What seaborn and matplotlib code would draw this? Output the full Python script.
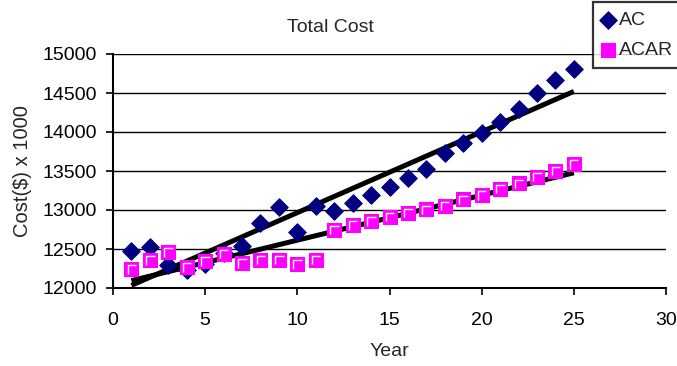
import numpy as np
import pandas as pd
import matplotlib
matplotlib.use('Agg')
import matplotlib.pyplot as plt
import seaborn as sns
from matplotlib.path import Path
from matplotlib.transforms import Bbox, TransformedBbox

# Values
years = list(range(1, 26))
ac = [12475, 12527, 12290, 12227, 12305, 12450, 12540, 12835, 13041, 12712,
      13050, 12990, 13090, 13188, 13298, 13406, 13526, 13727, 13864, 13992,
      14134, 14293, 14499, 14661, 14807]
acar = [12240, 12356, 12463, 12270, 12343, 12440, 12322, 12365, 12365, 12305,
        12365, 12750, 12806, 12857, 12913, 12964, 13007, 13054, 13136, 13191,
        13272, 13341, 13427, 13504, 13590]
y_ticks = [12000, 12500, 13000, 13500, 14000, 14500, 15000]
x_ticks = [0, 5, 10, 15, 20, 25, 30]

df = pd.DataFrame({'Year': years * 2,
                   'Cost': ac + acar,
                   'Series': ['AC'] * len(years) + ['ACAR'] * len(years)})

sns.set_theme(style='white')
plt.rcParams['font.family'] = ['Liberation Sans', 'DejaVu Sans']
FS = 14

W, H = 677, 366
fig = plt.figure(figsize=(W / 100, H / 100), dpi=100)
ax = fig.add_axes([113 / W, 1 - 288 / H, (666 - 113) / W, (288 - 54) / H])

# horizontal gridlines
for yv in y_ticks[1:]:
    ax.axhline(yv, color='black', lw=1.0, zorder=0)

# linear trend lines
for vals in (ac, acar):
    k, b = np.polyfit(years, vals, 1)
    xs = np.array([years[0], years[-1]])
    ax.plot(xs, k * xs + b, color='black', lw=3.6, zorder=2, solid_capstyle='butt')

sns.scatterplot(data=df[df['Series'] == 'AC'], x='Year', y='Cost', marker='D',
                color='#000080', edgecolor='#000080', s=80, ax=ax, zorder=3, label='AC')
sns.scatterplot(data=df[df['Series'] == 'ACAR'], x='Year', y='Cost', marker='s',
                color='#FF00FF', edgecolor='#FF00FF', s=95, ax=ax, zorder=3, label='ACAR')
# white inner corner mark on the squares
corner = Path([(-0.5, -0.6), (-0.5, 0.5), (0.6, 0.5)], [Path.MOVETO, Path.LINETO, Path.LINETO])
ax.scatter(years, acar, marker=corner, s=45, facecolors='none', edgecolors='white',
           linewidths=1.0, zorder=4)

ax.set_xlim(0, 30)
ax.set_ylim(12000, 15000)
ax.set_xticks(x_ticks)
ax.set_yticks(y_ticks)
ax.tick_params(axis='both', direction='out', length=5, width=1.2, color='black',
               labelsize=FS, labelcolor='black', left=True, bottom=True)
ax.tick_params(axis='x', pad=12)
ax.tick_params(axis='y', pad=6.5)
for side in ('top', 'right'):
    ax.spines[side].set_visible(False)
for side in ('left', 'bottom'):
    ax.spines[side].set_color('black')
    ax.spines[side].set_linewidth(1.5)
ax.set_xlabel('')
ax.set_ylabel('')

fig.text(330 / W, 1 - 27 / H, 'Total Cost', fontsize=FS, ha='center', va='center')
fig.text(389 / W, 1 - 352 / H, 'Year', fontsize=FS, ha='center', va='center')
ylab = fig.text(23 / W, 1 - 237 / H, 'Cost($) x 1000', fontsize=14.5, rotation=90,
                ha='center', va='bottom', clip_on=True)
ylab.set_clip_box(TransformedBbox(Bbox([[0, 0], [60 / W, 1 - 102 / H]]), fig.transFigure))

handles, labels = ax.get_legend_handles_labels()
ax.get_legend().remove()
leg = fig.legend(handles[:2], labels[:2], loc='upper left',
                 bbox_to_anchor=(593 / W, 1 - 2 / H), frameon=True, fancybox=False,
                 fontsize=FS, handlelength=0.55, handletextpad=0.3, borderpad=0.5,
                 labelspacing=0.6, borderaxespad=0)
leg.get_frame().set_edgecolor('black')
leg.get_frame().set_linewidth(1.6)

fig.savefig('out.png', dpi=100)
